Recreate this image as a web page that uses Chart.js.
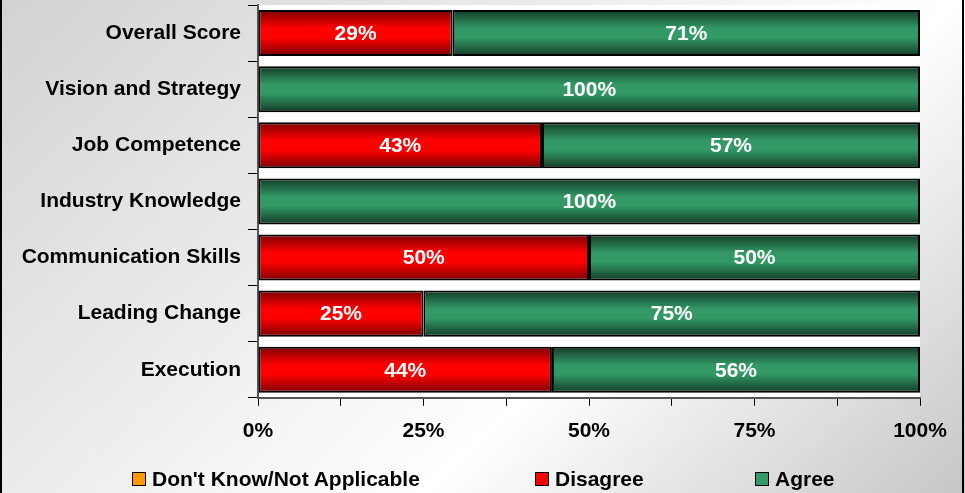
<!DOCTYPE html>
<html>
<head>
<meta charset="utf-8">
<script src="https://cdn.jsdelivr.net/npm/chart.js@4.4.0/dist/chart.umd.min.js"></script>
<style>
  body { margin: 0; }
  #wrap { position: relative; width: 965px; height: 493px; }
  .leg { position: absolute; top: 467px; display: flex; align-items: center;
         font: bold 21px Arial, "Liberation Sans", sans-serif; color: #000; white-space: nowrap; }
  .leg i { display: inline-block; width: 12px; height: 12px; border: 1.5px solid #000; margin-right: 6px; }
</style>
</head>
<body>
<div id="wrap">
  <canvas id="myChart" width="965" height="493"></canvas>
  <div class="leg" style="left:132px"><i style="background:#ff9900"></i>Don't Know/Not Applicable</div>
  <div class="leg" style="left:535px"><i style="background:#ff0000"></i>Disagree</div>
  <div class="leg" style="left:755px"><i style="background:#339966"></i>Agree</div>
</div>
<script>
let labels = ['Overall Score', 'Vision and Strategy', 'Job Competence', 'Industry Knowledge',
              'Communication Skills', 'Leading Change', 'Execution'];
let dontKnow = [0, 0, 0, 0, 0, 0, 0];
let disagree = [29.4, 0, 42.9, 0, 50, 25, 44.4];
let agree = [70.6, 100, 57.1, 100, 50, 75, 55.6];
let seriesNames = ["Don't Know/Not Applicable", 'Disagree', 'Agree'];

// bright / dark shade for each series
let shades = [['#ff9900', '#8a5200'], ['#ff0000', '#7a0000'], ['#339966', '#123a26']];

const font = { family: 'Arial, "Liberation Sans", sans-serif', size: 21, weight: 'bold' };

const background = {
    id: 'background',
    beforeDraw(chart) {
        const ctx = chart.ctx, a = chart.chartArea;
        let g = ctx.createLinearGradient(0, 0, 689, 747);
        g.addColorStop(0, '#d2d2d2');
        g.addColorStop(0.64, '#ffffff');
        g.addColorStop(1, '#c6c6c6');
        ctx.save();
        ctx.fillStyle = g;
        ctx.fillRect(0, 0, chart.width, chart.height);
        ctx.fillStyle = '#ffffff';
        ctx.fillRect(a.left, a.top, a.right - a.left, a.bottom - a.top);
        ctx.restore();
    },
    afterDraw(chart) {
        const ctx = chart.ctx;
        ctx.save();
        ctx.fillStyle = '#000';
        ctx.fillRect(0, 0, 2, chart.height);
        ctx.fillRect(962, 0, 2, chart.height);
        ctx.restore();
    }
};

// shaded bars: dark edges, bright middle
const shading = {
    id: 'shading',
    beforeDatasetsDraw(chart) {
        const ctx = chart.ctx;
        chart.data.datasets.forEach((ds, i) => {
            chart.getDatasetMeta(i).data.forEach(el => {
                const top = el.y - el.height / 2;
                let g = ctx.createLinearGradient(0, top, 0, top + el.height);
                g.addColorStop(0, shades[i][1]);
                g.addColorStop(0.4, shades[i][0]);
                g.addColorStop(0.6, shades[i][0]);
                g.addColorStop(1, shades[i][1]);
                el.options.backgroundColor = g;
            });
        });
    }
};

const valueLabels = {
    id: 'valueLabels',
    afterDatasetsDraw(chart) {
        const ctx = chart.ctx;
        ctx.save();
        ctx.fillStyle = '#fff';
        ctx.font = 'bold 21px Arial, "Liberation Sans", sans-serif';
        ctx.textAlign = 'center';
        ctx.textBaseline = 'middle';
        chart.data.datasets.forEach((ds, i) => {
            chart.getDatasetMeta(i).data.forEach((el, j) => {
                const v = ds.data[j];
                if (!v) return;
                ctx.fillText(Math.round(v) + '%', (el.x + el.base) / 2, el.y + 1);
            });
        });
        ctx.restore();
    }
};

function makeSet(name, data, i) {
    return {
        label: name,
        data: data,
        backgroundColor: () => shades[i][0],
        borderColor: '#000',
        borderWidth: c => (c.raw ? 2 : 0),
        borderSkipped: false,
        barPercentage: 0.82,
        categoryPercentage: 1
    };
}

let myChart = document.getElementById('myChart').getContext('2d');

let chart = new Chart(myChart, {
    type: 'bar',
    data: {
        labels: labels,
        datasets: [makeSet(seriesNames[0], dontKnow, 0),
                   makeSet(seriesNames[1], disagree, 1),
                   makeSet(seriesNames[2], agree, 2)]
    },
    options: {
        indexAxis: 'y',
        responsive: false,
        animation: false,
        devicePixelRatio: 1,
        layout: { padding: { top: 5, right: 45, bottom: 36, left: 0 } },
        plugins: { legend: { display: false }, tooltip: { enabled: false } },
        scales: {
            x: {
                stacked: true,
                min: 0,
                max: 100,
                grid: { drawOnChartArea: false, tickLength: 8, color: '#000', lineWidth: 1 },
                border: { color: '#555', width: 2 },
                ticks: {
                    stepSize: 12.5,
                    autoSkip: false,
                    maxRotation: 0,
                    padding: 13,
                    color: '#000',
                    font: font,
                    callback: v => (v % 25 === 0 ? v + '%' : '')
                }
            },
            y: {
                stacked: true,
                afterFit: s => { s.width = 258; s.paddingTop = 0; s.paddingBottom = 0; },
                grid: { drawOnChartArea: false, tickLength: 10, color: '#000', lineWidth: 1 },
                border: { color: '#555', width: 2 },
                ticks: { padding: 7, color: '#000', font: font }
            }
        }
    },
    plugins: [background, shading, valueLabels]
});
</script>
</body>
</html>
